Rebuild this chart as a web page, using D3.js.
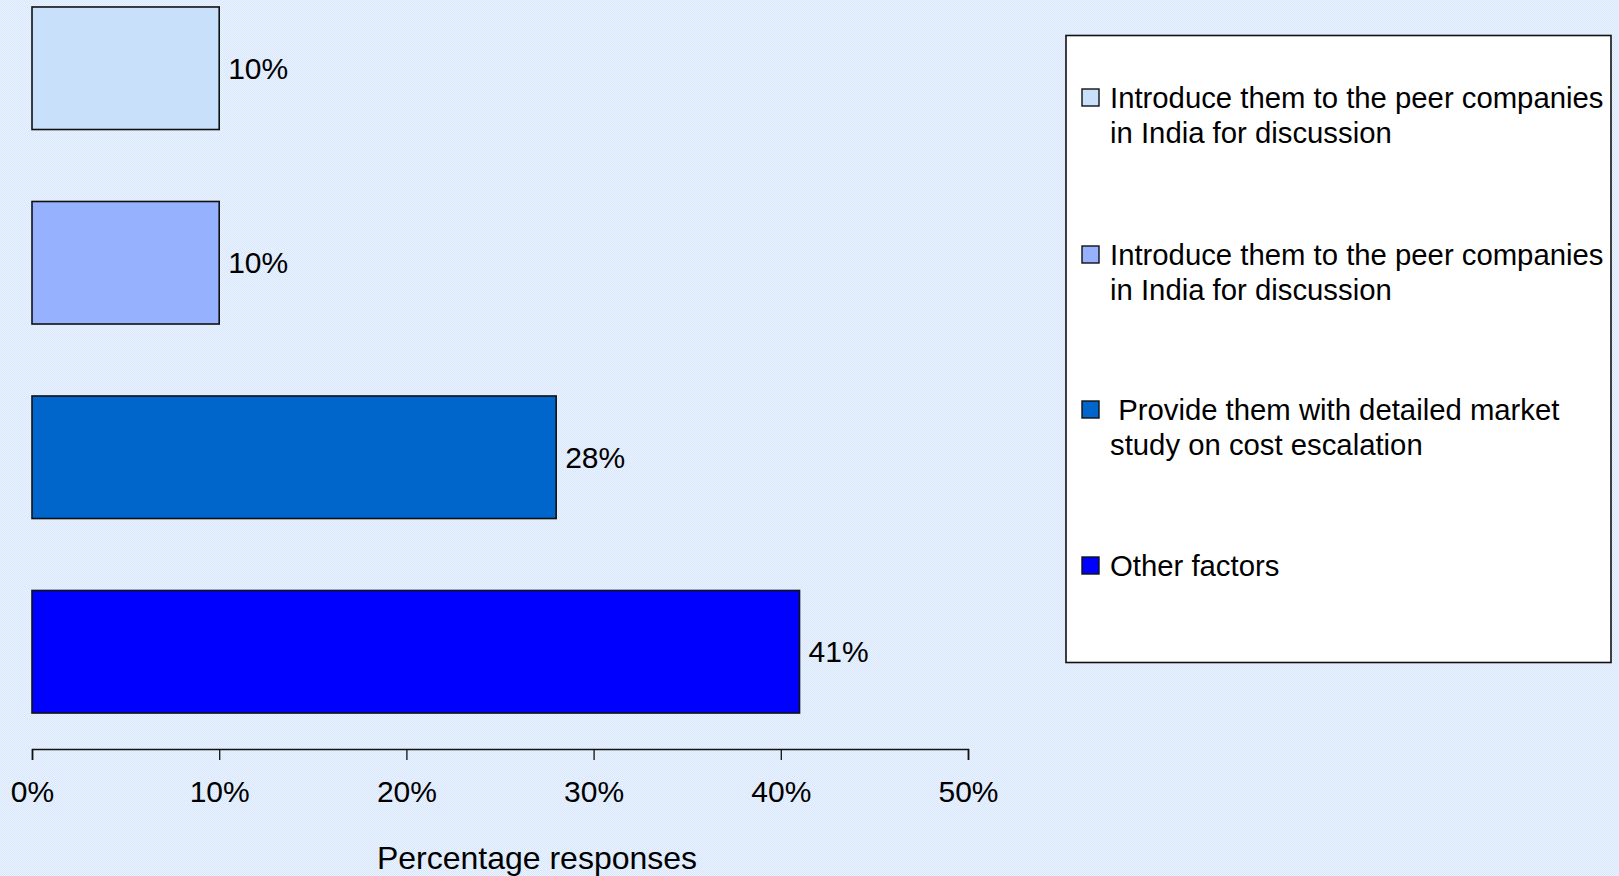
<!DOCTYPE html>
<html>
<head>
<meta charset="utf-8">
<script src="https://cdn.jsdelivr.net/npm/d3@7"></script>
<style>
  html, body { margin: 0; padding: 0; overflow: hidden; }
  text { font-family: "Liberation Sans", Arial, sans-serif; fill: #000; }
</style>
</head>
<body>
<div id="chart"></div>
<script>
// Data
var categories = [
    "Introduce them to the peer companies in India for discussion",
    "Introduce them to the peer companies in India for discussion (2)",
    " Provide them with detailed market study on cost escalation",
    "Other factors"
];
var values = [10, 10, 28, 41];
var legendLines = [
    ["Introduce them to the peer companies", "in India for discussion"],
    ["Introduce them to the peer companies", "in India for discussion"],
    [" Provide them with detailed market", "study on cost escalation"],
    ["Other factors"]
];
var tickValues = [0, 10, 20, 30, 40, 50];
var colors = ["#c8e0fa", "#96b1fd", "#0066cc", "#0000ff"];

var W = 1619, H = 876;

var svg = d3.select("#chart").append("svg")
    .attr("width", W)
    .attr("height", H);

// dotted light blue background
var defs = svg.append("defs");
var pat = defs.append("pattern")
    .attr("id", "dots")
    .attr("width", 2).attr("height", 2)
    .attr("patternUnits", "userSpaceOnUse");
pat.append("rect").attr("width", 2).attr("height", 2).attr("fill", "#e9f2fe");
pat.append("rect").attr("width", 1).attr("height", 1).attr("fill", "#d9e7fb");
pat.append("rect").attr("x", 1).attr("y", 1).attr("width", 1).attr("height", 1).attr("fill", "#d9e7fb");

svg.append("rect")
    .attr("width", W).attr("height", H)
    .attr("fill", "url(#dots)");

// scales
var xScale = d3.scaleLinear()
    .domain([0, 50])
    .range([32, 968]);

var yScale = d3.scaleBand()
    .domain(categories)
    .range([-29, 749])
    .paddingInner(0.37)
    .paddingOuter(0.185);

// bars
svg.append("g").selectAll("rect")
    .data(values)
    .enter()
    .append("rect")
    .attr("x", xScale(0))
    .attr("y", function (d, i) { return yScale(categories[i]); })
    .attr("width", function (d) { return xScale(d) - xScale(0); })
    .attr("height", yScale.bandwidth())
    .attr("fill", function (d, i) { return colors[i]; })
    .attr("stroke", "#111")
    .attr("stroke-width", 1.6);

// value labels
svg.append("g").selectAll("text")
    .data(values)
    .enter()
    .append("text")
    .attr("x", function (d) { return xScale(d) + 9; })
    .attr("y", function (d, i) { return yScale(categories[i]) + yScale.bandwidth() / 2; })
    .attr("dy", "0.35em")
    .attr("font-size", 30)
    .text(function (d) { return d + "%"; });

// x axis
var xAxis = d3.axisBottom(xScale)
    .tickValues(tickValues)
    .tickSize(11)
    .tickSizeOuter(11)
    .tickPadding(21)
    .tickFormat(function (d) { return d + "%"; });

var gx = svg.append("g")
    .attr("transform", "translate(0,749)")
    .call(xAxis);
gx.select(".domain").attr("stroke", "#111").attr("stroke-width", 1.6);
gx.selectAll(".tick line").attr("stroke", "#111").attr("stroke-width", 1.3);
gx.selectAll(".tick text")
    .attr("font-size", 30)
    .attr("font-family", "'Liberation Sans', Arial, sans-serif")
    .attr("fill", "#000");

svg.append("text")
    .attr("x", 537)
    .attr("y", 869)
    .attr("text-anchor", "middle")
    .attr("font-size", 32)
    .text("Percentage responses");

// legend
var legend = svg.append("g");
legend.append("rect")
    .attr("x", 1066).attr("y", 35.5)
    .attr("width", 545).attr("height", 627)
    .attr("fill", "#fff")
    .attr("stroke", "#111")
    .attr("stroke-width", 1.6);

var legendY = [98, 255, 410, 566];
var item = legend.selectAll("g.item")
    .data(legendLines)
    .enter()
    .append("g")
    .attr("class", "item")
    .attr("transform", function (d, i) { return "translate(1082," + legendY[i] + ")"; });

item.append("rect")
    .attr("x", 0).attr("y", -9)
    .attr("width", 17).attr("height", 17)
    .attr("fill", function (d, i) { return colors[i]; })
    .attr("stroke", "#111")
    .attr("stroke-width", 1.4);

item.each(function (lines) {
    var t = d3.select(this).append("text")
        .attr("font-size", 29.3)
        .attr("xml:space", "preserve")
        .style("white-space", "pre");
    lines.forEach(function (ln, j) {
        t.append("tspan")
            .attr("x", 28)
            .attr("y", j * 35)
            .attr("dy", "0.35em")
            .text(ln);
    });
});
</script>
</body>
</html>
